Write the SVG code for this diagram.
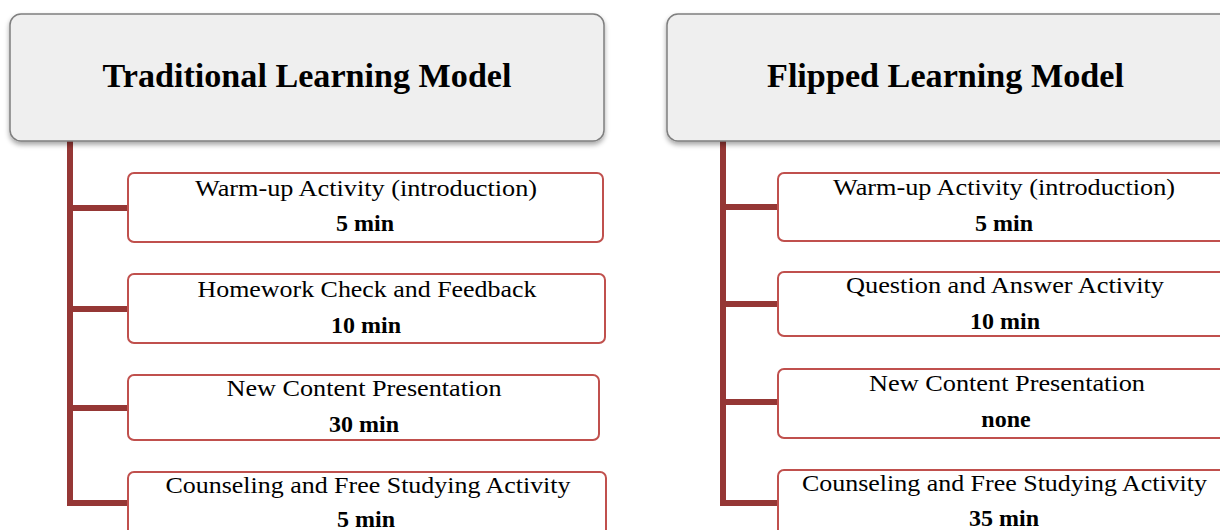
<svg xmlns="http://www.w3.org/2000/svg" width="1220" height="530" viewBox="0 0 1220 530">
<defs>
<filter id="sh" x="-5%" y="-10%" width="110%" height="130%">
<feDropShadow dx="0" dy="3" stdDeviation="2.5" flood-color="#000" flood-opacity="0.35"/>
</filter>
</defs>
<style>
.hdr{fill:#efefef;stroke:#7f7f7f;stroke-width:1.5}
.box{fill:#fff;stroke:#c0504d;stroke-width:2}
.conn{stroke:#953735;stroke-width:6;fill:none;stroke-linejoin:miter}
.t{font-family:"Liberation Serif",serif;fill:#000;text-anchor:middle}
.title{font-size:34px;font-weight:bold}
.lbl{font-size:24px}
.dur{font-size:24px;font-weight:bold}
</style>
<rect width="1220" height="530" fill="#fff"/>
<g id="connectors">
<path class="conn" d="M70,141 V503 M70,208 H128 M70,309 H128 M70,408 H128 M67,503 H128"/>
<path class="conn" d="M723,141 V503 M723,207 H778 M723,304 H778 M723,402 H778 M720,503 H778"/>
</g>
<g id="traditional">
<rect class="hdr" x="10" y="14" width="594" height="127" rx="11" filter="url(#sh)"/>
<text class="t title" x="307" y="87" textLength="409" lengthAdjust="spacingAndGlyphs">Traditional Learning Model</text>
</g>
<g id="t1">
<rect class="box" x="128" y="173" width="475" height="69" rx="6"/>
<text class="t lbl" x="366" y="196" textLength="342" lengthAdjust="spacingAndGlyphs">Warm-up Activity (introduction)</text>
<text class="t dur" x="365" y="231">5 min</text>
</g>
<g id="t2">
<rect class="box" x="128" y="274" width="477" height="69" rx="6"/>
<text class="t lbl" x="367" y="297" textLength="339" lengthAdjust="spacingAndGlyphs">Homework Check and Feedback</text>
<text class="t dur" x="366" y="333">10 min</text>
</g>
<g id="t3">
<rect class="box" x="128" y="375" width="471" height="65" rx="6"/>
<text class="t lbl" x="364" y="396" textLength="275" lengthAdjust="spacingAndGlyphs">New Content Presentation</text>
<text class="t dur" x="364" y="432">30 min</text>
</g>
<g id="t4">
<rect class="box" x="128" y="472" width="478" height="70" rx="6"/>
<text class="t lbl" x="368" y="493" textLength="405" lengthAdjust="spacingAndGlyphs">Counseling and Free Studying Activity</text>
<text class="t dur" x="366" y="527">5 min</text>
</g>
<g id="flipped">
<rect class="hdr" x="667" y="14" width="580" height="127" rx="11" filter="url(#sh)"/>
<text class="t title" x="945.5" y="87" textLength="357" lengthAdjust="spacingAndGlyphs">Flipped Learning Model</text>
</g>
<g id="f1">
<rect class="box" x="778" y="173" width="470" height="68" rx="6"/>
<text class="t lbl" x="1004" y="195" textLength="342" lengthAdjust="spacingAndGlyphs">Warm-up Activity (introduction)</text>
<text class="t dur" x="1004" y="231">5 min</text>
</g>
<g id="f2">
<rect class="box" x="778" y="272" width="470" height="64" rx="6"/>
<text class="t lbl" x="1005" y="293" textLength="318" lengthAdjust="spacingAndGlyphs">Question and Answer Activity</text>
<text class="t dur" x="1005" y="329">10 min</text>
</g>
<g id="f3">
<rect class="box" x="778" y="369" width="470" height="69" rx="6"/>
<text class="t lbl" x="1007" y="391" textLength="276" lengthAdjust="spacingAndGlyphs">New Content Presentation</text>
<text class="t dur" x="1006" y="427">none</text>
</g>
<g id="f4">
<rect class="box" x="778" y="470" width="470" height="72" rx="6"/>
<text class="t lbl" x="1004.5" y="491" textLength="405" lengthAdjust="spacingAndGlyphs">Counseling and Free Studying Activity</text>
<text class="t dur" x="1004" y="526">35 min</text>
</g>
</svg>
